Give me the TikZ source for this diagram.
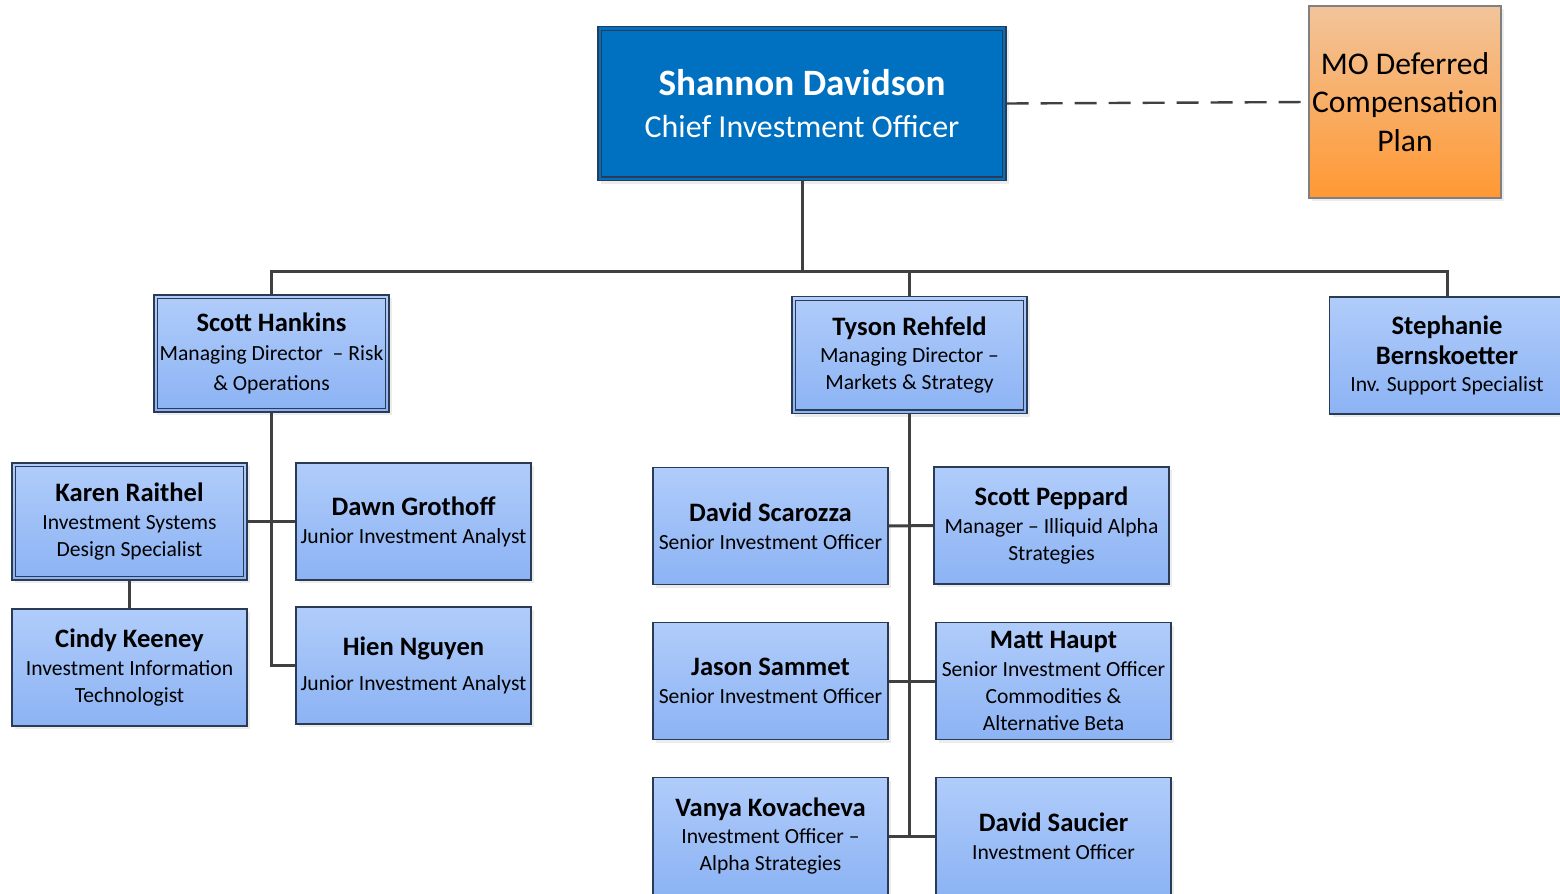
\documentclass[tikz,border=0pt]{standalone}
\usepackage{fontspec}
\setmainfont{Carlito}
\usetikzlibrary{shadows}
\definecolor{cioblue}{RGB}{0,112,192}
\definecolor{boxtop}{RGB}{176,204,250}
\definecolor{boxbot}{RGB}{140,179,244}
\definecolor{plantop}{RGB}{242,196,154}
\definecolor{planbot}{RGB}{255,152,51}
\definecolor{edge}{RGB}{43,58,85}
\definecolor{linkgray}{RGB}{64,64,64}
\newcommand{\nm}[1]{{\fontsize{13.3}{15}\bfseries #1}}
\tikzset{
  person/.style={draw=edge, line width=0.7pt, top color=boxtop, bottom color=boxbot,
    minimum width=117.5pt, minimum height=58.5pt, inner sep=1pt, align=center,
    font=\fontsize{10.8}{13.4}\selectfont,
    drop shadow={shadow xshift=1.5pt, shadow yshift=-1.5pt, opacity=.15}},
  frame/.style={draw=edge, line width=0.7pt},
  link/.style={draw=linkgray, line width=1.5pt},
}
\begin{document}
\begin{tikzpicture}[x=0.5pt, y=-0.5pt]
\useasboundingbox (0,0) rectangle (1560,894);
% top level
\node[draw=edge, line width=0.7pt, fill=cioblue, text=white, align=center,
      minimum width=204pt, minimum height=77pt,
      drop shadow={shadow xshift=1.5pt, shadow yshift=-1.5pt, opacity=.15},
      font=\fontsize{16}{21}\selectfont] (cio) at (802,103.5)
      {{\fontsize{18.6}{21}\bfseries Shannon Davidson}\\Chief Investment Officer};
\node[draw=gray, line width=0.6pt, top color=plantop, bottom color=planbot, align=center,
      minimum width=96pt, minimum height=96pt, inner sep=0pt,
      drop shadow={shadow xshift=1.5pt, shadow yshift=-1.5pt, opacity=.15},
      font=\fontsize{15.8}{19.3}\selectfont] (plan) at (1405,102)
      {MO Deferred\\Compensation\\Plan};
% directors
\node[person] (hankins) at (271.5,353.5) {\nm{Scott Hankins}\\[1pt]Managing Director\ \ -- Risk\\[2pt]\& Operations};
\node[person] (rehfeld) at (909.5,355) {\nm{Tyson Rehfeld}\\[0.5pt]Managing Director --\\Markets \& Strategy};
\node[person] (bernskoetter) at (1447,355.5) {\nm{Stephanie}\\[1.5pt]\nm{Bernskoetter}\\Inv. Support Specialist};
% risk & operations
\node[person] (raithel) at (129.5,521.5) {\nm{Karen Raithel}\\[0.5pt]Investment Systems\\Design Specialist};
\node[person] (grothoff) at (413.5,521.5) {\nm{Dawn Grothoff}\\[0.5pt]Junior Investment Analyst};
\node[person] (keeney) at (129.5,667.5) {\nm{Cindy Keeney}\\[0.5pt]Investment Information\\Technologist};
\node[person] (nguyen) at (413.5,665.5) {\nm{Hien Nguyen}\\[4pt]Junior Investment Analyst};
% markets & strategy
\node[person] (scarozza) at (770.5,526) {\nm{David Scarozza}\\[0.5pt]Senior Investment Officer};
\node[person] (peppard) at (1051.5,525.5) {\nm{Scott Peppard}\\[0.5pt]Manager -- Illiquid Alpha\\Strategies};
\node[person] (sammet) at (770.5,681) {\nm{Jason Sammet}\\[0.5pt]Senior Investment Officer};
\node[person] (haupt) at (1053.5,681) {\nm{Matt Haupt}\\[0.5pt]Senior Investment Officer\\Commodities \&\\Alternative Beta};
\node[person] (kovacheva) at (770.5,836) {\nm{Vanya Kovacheva}\\[0.5pt]Investment Officer --\\Alpha Strategies};
\node[person] (saucier) at (1053.5,836) {\nm{David Saucier}\\[0.5pt]Investment Officer};
% inner frames of the manager boxes
\foreach \n in {cio,hankins,rehfeld,raithel}
  \draw[frame] ([shift={(2.2pt,-2.2pt)}]\n.north west) rectangle ([shift={(-2.2pt,2.2pt)}]\n.south east);
% connectors
\coordinate (bus) at (802,271);
\draw[linkgray, line width=1.2pt, dash pattern=on 11pt off 6pt] (cio.east) -- (plan.west);
\draw[link] (cio.south) -- (bus);
\draw[link] (hankins.north) |- (bus) -| (bernskoetter.north);
\draw[link] (bus -| rehfeld.north) -- (rehfeld.north);
\draw[link] (hankins.south) |- (nguyen.west);
\draw[link] (raithel.east) -- (grothoff.west);
\draw[link] (raithel.south) -- (keeney.north);
\draw[link] (rehfeld.south) -- (rehfeld.south |- saucier.west);
\draw[link] (scarozza.east) -- (peppard.west);
\draw[link] (sammet.east) -- (haupt.west);
\draw[link] (kovacheva.east) -- (saucier.west);
\end{tikzpicture}
\end{document}
